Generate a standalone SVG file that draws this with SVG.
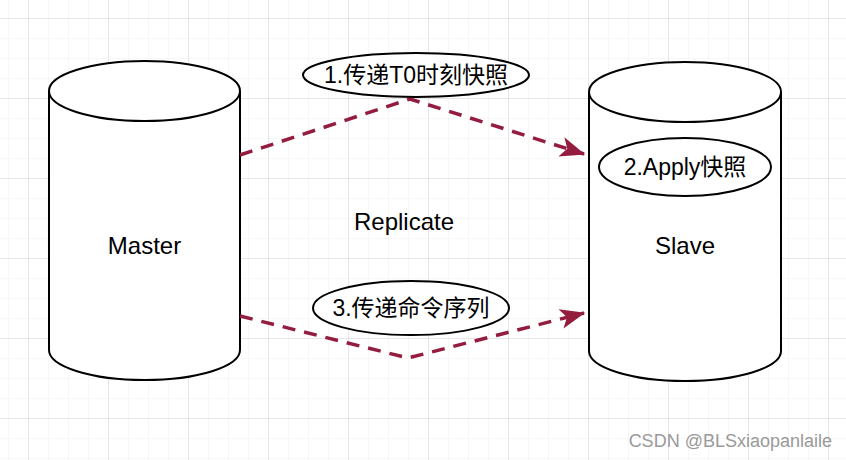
<svg xmlns="http://www.w3.org/2000/svg" width="846" height="460" viewBox="0 0 846 460">
<defs>
<pattern id="minor" width="20" height="20" patternUnits="userSpaceOnUse" x="8" y="-2">
<path d="M0 0H20M0 0V20" fill="none" stroke="#efefef" stroke-width="1"/>
</pattern>
<pattern id="major" width="80" height="80" patternUnits="userSpaceOnUse" x="28" y="18">
<path d="M0 0H80M0 0V80" fill="none" stroke="#d6d6d6" stroke-width="1"/>
</pattern>
<marker id="head" viewBox="0 0 20 16" refX="19" refY="8" markerWidth="26" markerHeight="20" markerUnits="userSpaceOnUse" orient="auto">
<path d="M0 0L20 8L0 16L5 8Z" fill="#941c3f"/>
</marker>
</defs>
<style>
.cyl{fill:#fff;stroke:#000;stroke-width:2}
.ell{fill:#fff;stroke:#000;stroke-width:2}
.t{font-family:"Helvetica","Liberation Sans","Noto Sans CJK SC",sans-serif;font-size:23px;fill:#000;text-anchor:middle;dominant-baseline:central}
.big{font-size:24px}
.c{fill:none;stroke:#941c3f;stroke-width:3.5;stroke-dasharray:13 9}
.wm{font-family:"Liberation Sans","Helvetica",sans-serif;font-size:18px;fill:#9a9a9a;text-anchor:end}
</style>
<rect width="846" height="460" fill="#fff"/>
<rect width="846" height="460" fill="url(#minor)"/>
<rect width="846" height="460" fill="url(#major)"/>
<g id="master">
<path class="cyl" d="M49 91A95.5 30 0 0 1 240 91V350A95.5 30 0 0 1 49 350Z"/>
<path class="cyl" fill="none" d="M49 91A95.5 30 0 0 0 240 91"/>
<text class="t big" x="144.5" y="245">Master</text>
</g>
<g id="slave">
<path class="cyl" d="M589 92A96 30 0 0 1 781 92V351A96 30 0 0 1 589 351Z"/>
<path class="cyl" fill="none" d="M589 92A96 30 0 0 0 781 92"/>
<text class="t big" x="685" y="245">Slave</text>
</g>
<g id="replicate">
<text class="t big" x="404" y="221">Replicate</text>
</g>
<g id="connectors">
<path class="c" d="M240 155L410 99L584 154" marker-end="url(#head)"/>
<path class="c" d="M240 316L408 358L584 313" marker-end="url(#head)"/>
</g>
<g id="label1">
<ellipse class="ell" cx="416" cy="75" rx="113" ry="22"/>
<text class="t" x="416" y="75">1.传递T0时刻快照</text>
</g>
<g id="label2">
<ellipse class="ell" cx="685" cy="167" rx="86" ry="29"/>
<text class="t" x="685" y="167">2.Apply快照</text>
</g>
<g id="label3">
<ellipse class="ell" cx="411" cy="308" rx="98" ry="27"/>
<text class="t" x="411" y="308">3.传递命令序列</text>
</g>
<text class="wm" x="832" y="447">CSDN @BLSxiaopanlaile</text>
</svg>
